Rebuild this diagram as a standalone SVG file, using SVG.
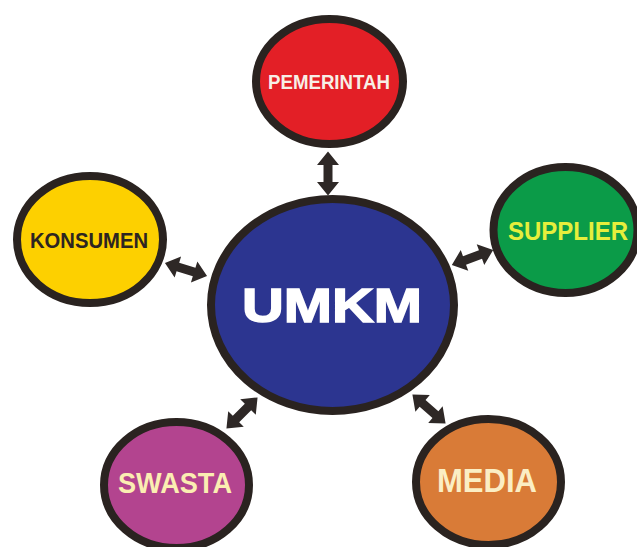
<svg xmlns="http://www.w3.org/2000/svg" width="637" height="547" viewBox="0 0 637 547">
  <style>
    .ring { stroke: #2a2320; stroke-width: 8; }
    .label { font-family: "Liberation Sans", Arial, sans-serif; font-weight: bold; text-anchor: middle; }
    .conn { fill: #2e2826; }
  </style>
  <defs>
    <!-- double-headed arrow, centred on the origin, pointing along x -->
    <path id="dbl-arrow" d="M-22,0 L-8.5,-11 L-8.5,-4.5 L8.5,-4.5 L8.5,-11 L22,0 L8.5,11 L8.5,4.5 L-8.5,4.5 L-8.5,11 Z"/>
  </defs>
  <rect width="637" height="547" fill="#ffffff"/>

  <g id="connectors" class="conn">
    <use href="#dbl-arrow" transform="translate(328,173.5) rotate(90)"/>
    <use href="#dbl-arrow" transform="translate(186,269.5) rotate(17)"/>
    <use href="#dbl-arrow" transform="translate(472.5,257.5) rotate(-20)"/>
    <use href="#dbl-arrow" transform="translate(242,413) rotate(-45)"/>
    <use href="#dbl-arrow" transform="translate(429,409) rotate(41)"/>
  </g>

  <g id="pemerintah">
    <ellipse class="ring" cx="329.5" cy="81.5" rx="73.5" ry="62.5" fill="#e31f26"/>
    <text class="label" x="329" y="89" font-size="21" textLength="122" lengthAdjust="spacingAndGlyphs" fill="#f7efe6">PEMERINTAH</text>
  </g>

  <g id="konsumen">
    <ellipse class="ring" cx="90" cy="239.5" rx="73" ry="63.5" fill="#fdd000"/>
    <text class="label" x="89" y="248" font-size="22" textLength="118" lengthAdjust="spacingAndGlyphs" fill="#2d2521">KONSUMEN</text>
  </g>

  <g id="supplier">
    <ellipse class="ring" cx="565.5" cy="230" rx="72" ry="63" fill="#0b9b48"/>
    <text class="label" x="568" y="240" font-size="25" textLength="120" lengthAdjust="spacingAndGlyphs" fill="#e6ee3c">SUPPLIER</text>
  </g>

  <g id="umkm">
    <ellipse class="ring" cx="332.5" cy="305" rx="121.5" ry="106" fill="#2c3590"/>
    <text class="label" x="332" y="322" font-size="48" textLength="180" lengthAdjust="spacingAndGlyphs" fill="#ffffff" stroke="#ffffff" stroke-width="1.5">UMKM</text>
  </g>

  <g id="swasta">
    <ellipse class="ring" cx="176.5" cy="485" rx="72.5" ry="63" fill="#b3448f"/>
    <text class="label" x="175" y="493" font-size="30" textLength="114" lengthAdjust="spacingAndGlyphs" fill="#fbeeb2">SWASTA</text>
  </g>

  <g id="media">
    <ellipse class="ring" cx="488.5" cy="482" rx="72.5" ry="63" fill="#d97b37"/>
    <text class="label" x="487" y="492" font-size="34" textLength="100" lengthAdjust="spacingAndGlyphs" fill="#fbeec4">MEDIA</text>
  </g>
</svg>
